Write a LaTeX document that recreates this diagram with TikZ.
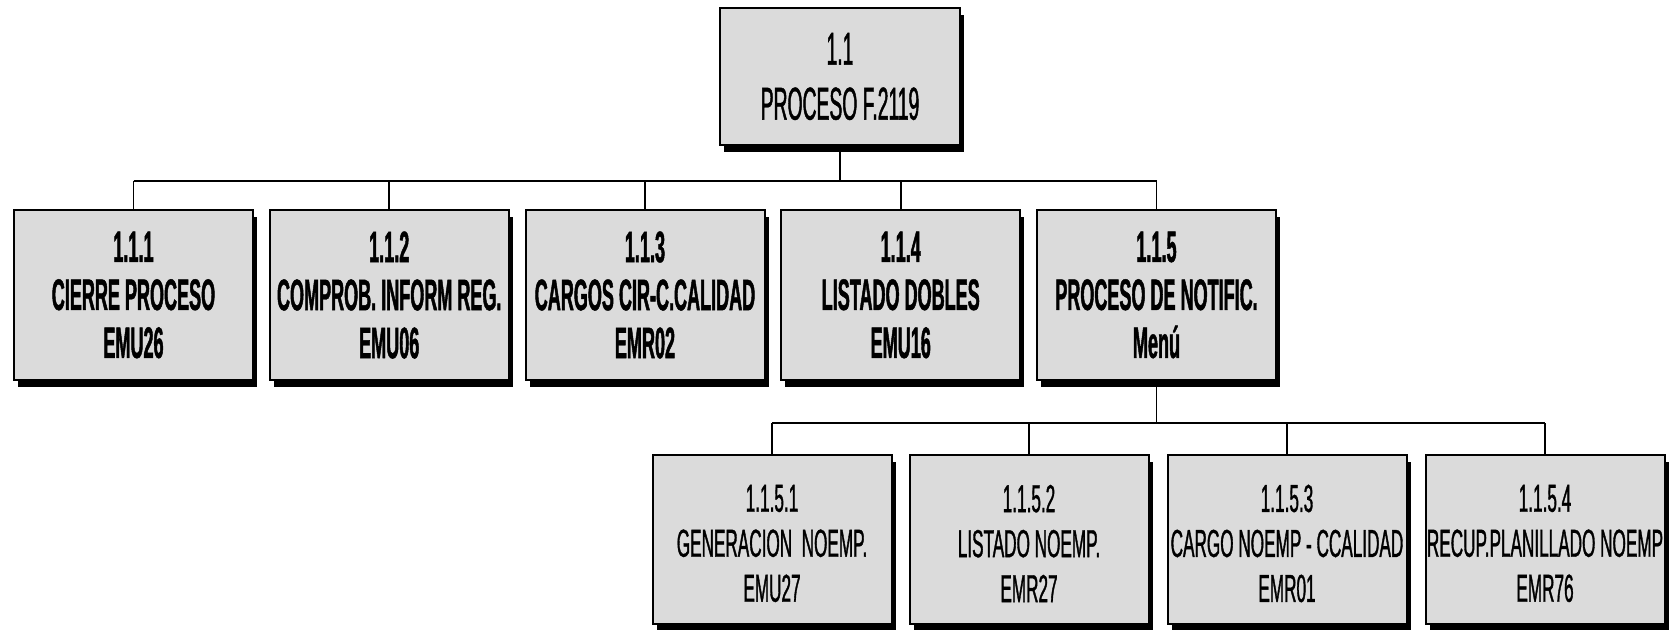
\documentclass[tikz,border=0pt]{standalone}
\usepackage{fontspec}
\setmainfont{Liberation Sans}
\newfontfamily\fonttop{Liberation Sans}[FakeStretch=0.42,FakeBold=1]
\newfontfamily\fonttwo{Liberation Sans}[FakeStretch=0.41,FakeBold=1]
\newfontfamily\fontthree{Liberation Sans}[FakeStretch=0.44,FakeBold=0.9]
\usetikzlibrary{shadows}
\begin{document}
\begin{tikzpicture}[x=0.5pt,y=-0.5pt,
  box/.style={draw=black, line width=1pt, fill=black!14, minimum width=119.5pt,
    minimum height=85pt, align=center, inner sep=0pt,
    drop shadow={shadow xshift=2pt, shadow yshift=-3.5pt, fill=black, opacity=1}},
  topbox/.style={box, minimum width=120pt, minimum height=68.5pt, font=\fonttop\fontsize{23}{27.5}\selectfont},
  lvtwo/.style={box, font=\fonttwo\bfseries\fontsize{22}{24}\selectfont},
  lvthree/.style={box, minimum height=84.5pt},
  txtthree/.style={align=center, inner sep=0pt, font=\fontthree\fontsize{19.5}{22.5}\selectfont},
  link/.style={draw=black, line width=0.8pt}]
\fill[white] (0,0) rectangle (1669,630);
\useasboundingbox (0,0) rectangle (1669,630);

% top
\node[topbox] (top) at (840,76.5) {1.1\\PROCESO F.2119};

% level 2
\node[lvtwo] (a) at (133.5,295) {1.1.1\\CIERRE PROCESO\\EMU26};
\node[lvtwo] (b) at (389.25,295) {1.1.2\\COMPROB. INFORM REG.\\EMU06};
\node[lvtwo] (c) at (645,295) {1.1.3\\CARGOS CIR-C.CALIDAD\\EMR02};
\node[lvtwo] (d) at (900.75,295) {1.1.4\\LISTADO DOBLES\\EMU16};
\node[lvtwo] (e) at (1156.5,295) {1.1.5\\PROCESO DE NOTIFIC.\\Menú};

% level 3
\node[lvthree] (f) at (772,539.5) {};
\node[lvthree] (g) at (1029,539.5) {};
\node[lvthree] (h) at (1287,539.5) {};
\node[lvthree] (i) at (1545,539.5) {};
\node[txtthree] (ft) at ([yshift=-2pt]f.center) {1.1.5.1\\GENERACION\ \ NOEMP.\\EMU27};
\node[txtthree] (gt) at ([yshift=-2pt]g.center) {1.1.5.2\\LISTADO NOEMP.\\EMR27};
\node[txtthree] (ht) at ([yshift=-2pt]h.center) {1.1.5.3\\CARGO NOEMP - CCALIDAD\\EMR01};
\node[txtthree] (it) at ([yshift=-2pt]i.center) {1.1.5.4\\RECUP.PLANILLADO NOEMP\\EMR76};

% connectors level 1 -> 2
\coordinate (j1) at (840,181);
\draw[link] (top.south) -- (j1);
\draw[link] (a.north |- j1) -- (e.north |- j1);
\foreach \n in {a,b,c,d,e}{\draw[link] (\n.north |- j1) -- (\n.north);}

% connectors 1.1.5 -> level 3
\coordinate (j2) at (1156.5,423);
\draw[link] (e.south) -- (j2);
\draw[link] (f.north |- j2) -- (i.north |- j2);
\foreach \n in {f,g,h,i}{\draw[link] (\n.north |- j2) -- (\n.north);}
\end{tikzpicture}
\end{document}
